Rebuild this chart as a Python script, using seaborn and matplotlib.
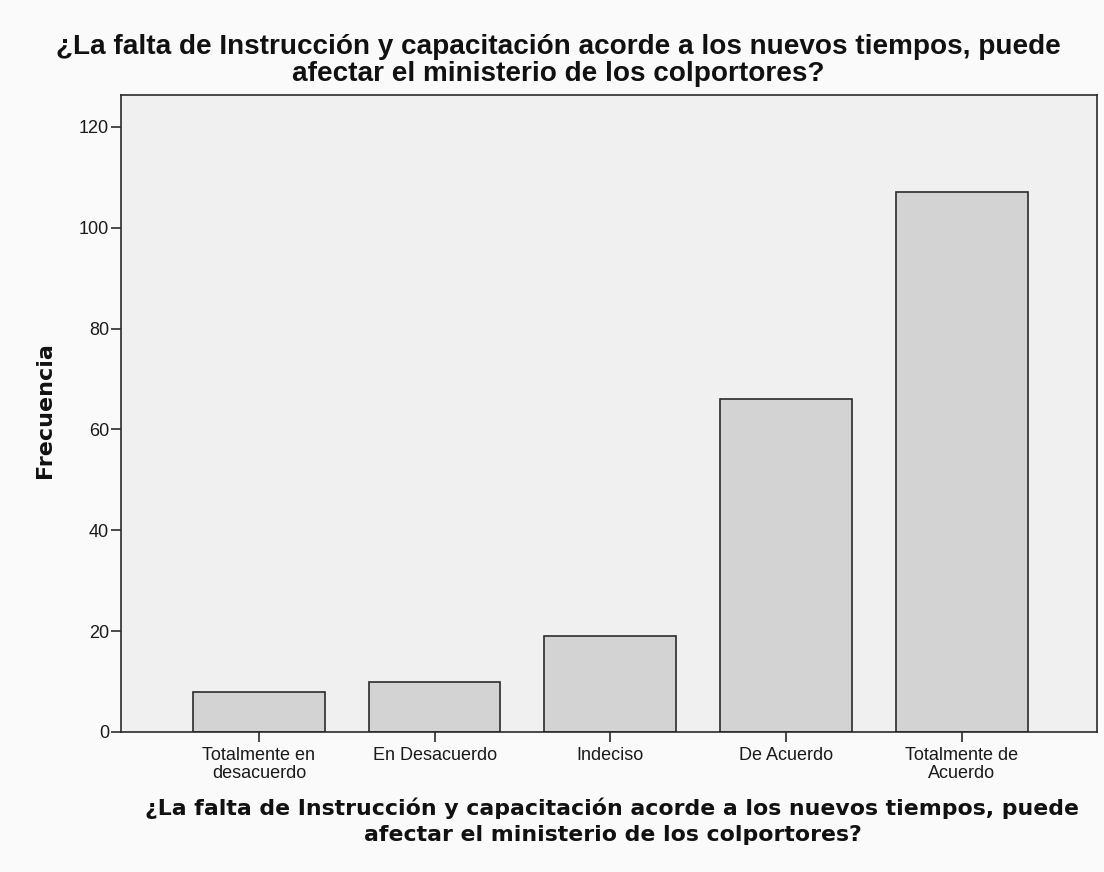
import matplotlib
matplotlib.use("Agg")
import matplotlib.pyplot as plt
import pandas as pd
import seaborn as sns

# answer categories and their counts
categorias = ["Totalmente en\ndesacuerdo", "En Desacuerdo", "Indeciso",
              "De Acuerdo", "Totalmente de\nAcuerdo"]
frecuencias = [8, 10, 19, 66, 107]
y_ticks = [0, 20, 40, 60, 80, 100, 120]

pregunta = ("¿La falta de Instrucción y capacitación acorde a los nuevos tiempos, puede\n"
            "afectar el ministerio de los colportores?")

sns.set_theme(style="ticks")
plt.rcParams["font.family"] = ["Liberation Sans", "DejaVu Sans"]
plt.rcParams["text.color"] = "#111111"
plt.rcParams["axes.labelcolor"] = "#111111"

df = pd.DataFrame({"categoria": categorias, "frecuencia": frecuencias})

fig = plt.figure(figsize=(11.04, 8.72), dpi=100, facecolor="#fafafa")
ax = fig.add_axes([0.1096, 0.1606, 0.884, 0.7304])
ax.set_facecolor("#f0f0f0")

sns.barplot(data=df, x="categoria", y="frecuencia", color="#d3d3d3",
            saturation=1, width=0.75, edgecolor="#2b2b2b", linewidth=1.2, ax=ax)

ax.set_xlim(-0.785, 4.77)
ax.set_ylim(0, 126.3)
ax.set_yticks(y_ticks)

for side in ["top", "right", "left", "bottom"]:
    ax.spines[side].set_visible(True)
    ax.spines[side].set_color("#2b2b2b")
    ax.spines[side].set_linewidth(1.2)

ax.tick_params(axis="both", direction="out", length=7, width=1.2, color="#2b2b2b",
               labelsize=13, labelcolor="#1a1a1a")
ax.tick_params(axis="y", pad=1.5)
ax.tick_params(axis="x", pad=3.6)
for lbl in ax.get_xticklabels():
    lbl.set_linespacing(1.08)

ax.set_ylabel("Frecuencia", fontsize=16, fontweight="bold", family="DejaVu Sans",
              va="center")
ax.yaxis.set_label_coords(-0.0774, 0.5047)
ax.set_xlabel(pregunta, fontsize=15.85, fontweight="bold", family="DejaVu Sans",
              linespacing=1.36, va="top")
ax.xaxis.set_label_coords(0.5036, -0.103)

fig.text(0.506, 0.961, pregunta, ha="center", va="top", fontsize=20.1,
         fontweight="bold", linespacing=1.03)

fig.savefig("out.png", dpi=100, facecolor=fig.get_facecolor())
plt.close(fig)
